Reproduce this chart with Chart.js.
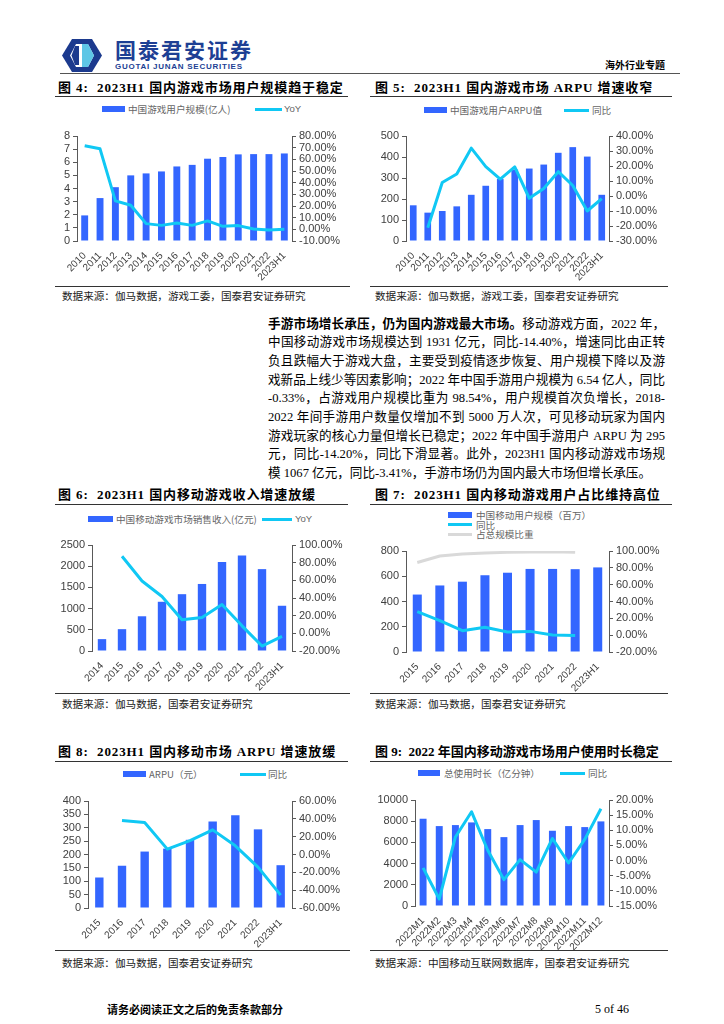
<!DOCTYPE html>
<html><head><meta charset="utf-8">
<script src="https://cdn.jsdelivr.net/npm/chart.js@4.4.0/dist/chart.umd.min.js"></script>
<style>
html,body{margin:0;padding:0;background:#fff;}
#page{position:relative;width:724px;height:1024px;overflow:hidden;font-family:"Liberation Serif","Noto Sans CJK SC",serif;color:#000;}
.abs{position:absolute;white-space:nowrap;}
.title{font-family:"Liberation Serif","Noto Sans CJK SC",serif;font-weight:bold;font-size:13px;line-height:18px;letter-spacing:0.9px;}
.hline{position:absolute;height:1px;background:#333;}
.src{font-family:"Noto Sans CJK SC",sans-serif;font-size:10.6px;line-height:14px;color:#222;}
.lg{font-family:"Noto Sans CJK SC",sans-serif;font-size:9.6px;line-height:12px;color:#666;}
.lgfont{font-family:"Liberation Sans","Noto Sans CJK SC",sans-serif;}
.sw{position:absolute;}
canvas{position:absolute;}
.body{position:absolute;left:268px;width:397px;font-size:12.6px;line-height:18.65px;font-family:"Liberation Serif","Noto Sans CJK SC",serif;}
.body div{white-space:nowrap;text-align:justify;text-align-last:justify;height:18.65px;}
</style></head>
<body><div id="page">
<!-- header -->
<svg class="abs" style="left:62px;top:39px" width="40" height="33" viewBox="0 0 40 33">
  <path d="M10 0 H30 L40 16.5 L30 33 H10 L0 16.5 Z" fill="#1c3a8e"/>
  <path d="M14 5 H26 L32 16.5 L26 28 H14 L8 16.5 Z" fill="#fff"/>
  <path d="M20 5 H26 L32 16.5 L26 28 H20 Z" fill="#5ec6e6"/>
  <path d="M13 7 L17 7 L17 26 L13 26 L9.5 16.5 Z" fill="#1c3a8e"/>
</svg>
<div class="abs" style="left:115px;top:37px;font-family:'Noto Sans CJK SC';font-weight:bold;font-size:21px;line-height:24px;color:#1d3f94;letter-spacing:2px;">国泰君安证券</div>
<div class="abs" style="left:115px;top:62px;font-family:'Liberation Sans';font-weight:bold;font-size:8px;line-height:9px;letter-spacing:0.75px;color:#1d3f94;">GUOTAI JUNAN SECURITIES</div>
<div class="abs" style="left:605px;top:58px;font-family:'Noto Sans CJK SC';font-weight:bold;font-size:10px;line-height:14px;">海外行业专题</div>
<div class="hline" style="left:60px;top:73px;width:620px;background:#555;"></div>

<!-- titles row 1 -->
<div class="abs title" style="left:58px;top:79px;">图 4:&nbsp; 2023H1 国内游戏市场用户规模趋于稳定</div>
<div class="hline" style="left:55px;top:96px;width:293px;"></div>
<div class="abs title" style="left:375px;top:79px;">图 5:&nbsp; 2023H1 国内游戏市场 ARPU 增速收窄</div>
<div class="hline" style="left:370px;top:96px;width:302px;"></div>

<!-- legends chart1 -->
<div class="sw" style="left:102px;top:106px;width:23px;height:6px;background:#3366ff;"></div>
<div class="abs lg" style="left:128px;top:103px;">中国游戏用户规模(亿人)</div>
<div class="sw" style="left:255px;top:108px;width:27px;height:3px;background:#10c8f4;"></div>
<div class="abs lg lgfont" style="left:284px;top:103px;">YoY</div>
<!-- legends chart2 -->
<div class="sw" style="left:424px;top:107px;width:23px;height:6px;background:#3366ff;"></div>
<div class="abs lg" style="left:450px;top:104px;">中国游戏用户ARPU值</div>
<div class="sw" style="left:564px;top:109px;width:25px;height:3px;background:#10c8f4;"></div>
<div class="abs lg" style="left:592px;top:104px;">同比</div>

<canvas id="c1" width="300" height="166" style="left:55px;top:120px"></canvas>
<canvas id="c2" width="340" height="166" style="left:365px;top:120px"></canvas>

<div class="hline" style="left:55px;top:286px;width:295px;"></div>
<div class="hline" style="left:370px;top:286px;width:298px;"></div>
<div class="abs src" style="left:62px;top:289px;">数据来源：伽马数据，游戏工委，国泰君安证券研究</div>
<div class="abs src" style="left:375px;top:289px;">数据来源：伽马数据，游戏工委，国泰君安证券研究</div>

<!-- body text -->
<div class="body" style="top:314.7px;">
<div><b>手游市场增长承压，仍为国内游戏最大市场。</b>移动游戏方面，2022 年，</div>
<div>中国移动游戏市场规模达到 1931 亿元，同比-14.40%，增速同比由正转</div>
<div>负且跌幅大于游戏大盘，主要受到疫情逐步恢复、用户规模下降以及游</div>
<div>戏新品上线少等因素影响；2022 年中国手游用户规模为 6.54 亿人，同比</div>
<div>-0.33%，占游戏用户规模比重为 98.54%，用户规模首次负增长，2018-</div>
<div>2022 年间手游用户数量仅增加不到 5000 万人次，可见移动玩家为国内</div>
<div>游戏玩家的核心力量但增长已稳定；2022 年中国手游用户 ARPU 为 295</div>
<div>元，同比-14.20%，同比下滑显著。此外，2023H1 国内移动游戏市场规</div>
<div style="text-align:left;text-align-last:left;">模 1067 亿元，同比-3.41%，手游市场仍为国内最大市场但增长承压。</div>
</div>

<!-- titles row 2 -->
<div class="abs title" style="left:58px;top:486px;">图 6:&nbsp; 2023H1 国内移动游戏收入增速放缓</div>
<div class="hline" style="left:55px;top:504px;width:293px;"></div>
<div class="abs title" style="left:375px;top:486px;">图 7:&nbsp; 2023H1 国内移动游戏用户占比维持高位</div>
<div class="hline" style="left:370px;top:504px;width:302px;"></div>

<!-- legend chart3 -->
<div class="sw" style="left:88px;top:516px;width:25px;height:6px;background:#3366ff;"></div>
<div class="abs lg" style="left:116px;top:513px;">中国移动游戏市场销售收入(亿元)</div>
<div class="sw" style="left:262px;top:518px;width:30px;height:3px;background:#10c8f4;"></div>
<div class="abs lg lgfont" style="left:295px;top:513px;">YoY</div>
<!-- legend chart4 -->
<div class="sw" style="left:448px;top:512px;width:24px;height:6px;background:#3366ff;"></div>
<div class="abs lg" style="left:476px;top:509px;">中国移动用户规模（百万）</div>
<div class="sw" style="left:448px;top:523px;width:24px;height:3px;background:#10c8f4;"></div>
<div class="abs lg" style="left:476px;top:518.5px;">同比</div>
<div class="sw" style="left:448px;top:532.5px;width:24px;height:3px;background:#d9d9d9;"></div>
<div class="abs lg" style="left:476px;top:528px;">占总规模比重</div>

<canvas id="c3" width="300" height="162" style="left:55px;top:530px"></canvas>
<canvas id="c4" width="340" height="156" style="left:365px;top:536px"></canvas>

<div class="hline" style="left:55px;top:693px;width:295px;"></div>
<div class="hline" style="left:370px;top:693px;width:298px;"></div>
<div class="abs src" style="left:62px;top:697px;">数据来源：伽马数据，国泰君安证券研究</div>
<div class="abs src" style="left:375px;top:697px;">数据来源：伽马数据，国泰君安证券研究</div>

<!-- titles row 3 -->
<div class="abs title" style="left:58px;top:743px;">图 8:&nbsp; 2023H1 国内移动市场 ARPU 增速放缓</div>
<div class="hline" style="left:55px;top:761px;width:293px;"></div>
<div class="abs title" style="left:375px;top:743px;letter-spacing:0;">图 9:&nbsp; 2022 年国内移动游戏市场用户使用时长稳定</div>
<div class="hline" style="left:370px;top:761px;width:302px;"></div>

<!-- legend chart5 -->
<div class="sw" style="left:123px;top:771px;width:23px;height:6px;background:#3366ff;"></div>
<div class="abs lg" style="left:149px;top:768px;">ARPU（元）</div>
<div class="sw" style="left:240px;top:773px;width:26px;height:3px;background:#10c8f4;"></div>
<div class="abs lg" style="left:268px;top:768px;">同比</div>
<!-- legend chart6 -->
<div class="sw" style="left:418px;top:770px;width:22px;height:6px;background:#3366ff;"></div>
<div class="abs lg" style="left:444px;top:767px;">总使用时长（亿分钟）</div>
<div class="sw" style="left:560px;top:772px;width:25px;height:3px;background:#10c8f4;"></div>
<div class="abs lg" style="left:588px;top:767px;">同比</div>

<canvas id="c5" width="300" height="164" style="left:55px;top:786px"></canvas>
<canvas id="c6" width="340" height="165" style="left:365px;top:785px"></canvas>

<div class="hline" style="left:55px;top:950px;width:295px;"></div>
<div class="hline" style="left:370px;top:950px;width:298px;"></div>
<div class="abs src" style="left:62px;top:956px;">数据来源：伽马数据，国泰君安证券研究</div>
<div class="abs src" style="left:375px;top:956px;">数据来源：中国移动互联网数据库，国泰君安证券研究</div>

<!-- footer -->
<div class="abs" style="left:107px;top:1002px;font-family:'Noto Sans CJK SC';font-weight:bold;font-size:11px;line-height:15px;">请务必阅读正文之后的免责条款部分</div>
<div class="abs" style="left:595px;top:1002px;font-family:'Liberation Serif';font-size:12px;line-height:15px;">5 of 46</div>
</div>

<script>
// ---- Data ----
const years1 = ['2010','2011','2012','2013','2014','2015','2016','2017','2018','2019','2020','2021','2022','2023H1'];
const gameUsers = [1.95, 3.27, 4.1, 5.0, 5.15, 5.3, 5.68, 5.8, 6.27, 6.4, 6.6, 6.62, 6.62, 6.67];
const gameUsersYoY = [71.6, 69.0, 24.4, 20.6, 4.9, 3.4, 5.4, 3.4, 7.2, 2.6, 3.2, 0.3, -0.5, 0.0];

const gameArpu = [170, 135, 143, 165, 220, 263, 295, 340, 345, 364, 420, 447, 402, 220];
const gameArpuYoY = [null, -21.2, 9.0, 14.7, 31.9, 19.6, 11.3, 19.4, -1.5, 5.0, 16.2, 7.0, -10.0, -1.7];

const years3 = ['2014','2015','2016','2017','2018','2019','2020','2021','2022','2023H1'];
const mobileRevenue = [280, 515, 819, 1161, 1340, 1581, 2097, 2255, 1931, 1067];
const mobileRevenueYoY = [null, 87.2, 59.2, 41.7, 15.4, 18.0, 32.6, 8.5, -14.4, -3.4];

const years4 = ['2015','2016','2017','2018','2019','2020','2021','2022','2023H1'];
const mobileUsers = [455, 527, 557, 608, 628, 658, 658, 656, 670];
const mobileUsersYoY = [28.0, 17.3, 5.3, 9.3, 3.7, 4.5, 0.2, -0.3, null];
const mobileShare = [86.4, 94.0, 96.4, 97.6, 98.4, 98.9, 99.0, 98.5, null];

const years5 = ['2015','2016','2017','2018','2019','2020','2021','2022','2023H1'];
const mobileArpu = [114, 158, 211, 222, 255, 323, 347, 294, 160];
const mobileArpuYoY = [null, 38.0, 35.8, 6.0, 15.6, 27.6, 9.7, -14.2, -45.5];

const months6 = ['2022M1','2022M2','2022M3','2022M4','2022M5','2022M6','2022M7','2022M8','2022M9','2022M10','2022M11','2022M12'];
const playTime = [8233, 7539, 7634, 7886, 7256, 6498, 7634, 8107, 7098, 7539, 7445, 7981];
const playTimeYoY = [-2.4, -12.7, 7.8, 16.1, 3.4, -6.3, 0.3, -3.8, 7.3, -0.8, 7.0, 17.1];

// ---- Styles ----
const BLUE = '#3366ff', CYAN = '#10c8f4', GREY = '#d9d9d9', AXIS = '#595959', TXT = '#404040';
const FONT = '"Liberation Sans", Arial, sans-serif';

function dualChart(id, labels, bars, lines, yL, yR, g) {
  const datasets = [{
    type: 'bar', data: bars, backgroundColor: BLUE, barPercentage: g.bp, categoryPercentage: 1,
    yAxisID: 'y', order: 3
  }];
  lines.forEach((l, i) => datasets.push({
    type: 'line', data: l.data, borderColor: l.color, backgroundColor: l.color, borderWidth: 3,
    pointRadius: 0, tension: 0, yAxisID: 'y1', order: 1 + i, spanGaps: false, borderJoinStyle: 'round'
  }));
  const yTicks = (extra) => Object.assign({color: TXT, font: {family: FONT, size: 11}, padding: 3, autoSkip: false}, extra);
  new Chart(document.getElementById(id), {
    type: 'bar',
    data: {labels, datasets},
    options: {
      responsive: false, animation: false, devicePixelRatio: 1,
      layout: {autoPadding: false, padding: {top: g.top, left: 0, right: 0, bottom: 0}},
      plugins: {legend: {display: false}, tooltip: {enabled: false}},
      scales: {
        x: {
          offset: true,
          grid: {display: false}, border: {display: false},
          ticks: {minRotation: 45, maxRotation: 45, autoSkip: false, color: TXT, font: {family: FONT, size: 10}, padding: 1},
          afterFit: s => { s.height = g.xh; }
        },
        y: {
          position: 'left', min: yL[0], max: yL[1],
          ticks: yTicks({stepSize: yL[2], callback: v => String(v)}),
          grid: {drawOnChartArea: false, drawTicks: true, tickLength: 4, color: AXIS},
          border: {display: true, color: AXIS},
          afterFit: s => { s.width = g.lw; }
        },
        y1: {
          position: 'right', min: yR[0], max: yR[1],
          ticks: yTicks({stepSize: yR[2], callback: v => v.toFixed(2) + '%'}),
          grid: {drawOnChartArea: false, drawTicks: true, tickLength: 4, color: AXIS},
          border: {display: true, color: AXIS},
          afterFit: s => { s.width = g.rw; }
        }
      }
    }
  });
}

dualChart('c1', years1, gameUsers, [{data: gameUsersYoY, color: CYAN}], [0, 8, 1], [-10, 80, 10],
  {top: 16, xh: 45, lw: 22, rw: 63, bp: 0.45});
dualChart('c2', years1, gameArpu, [{data: gameArpuYoY, color: CYAN}], [0, 500, 100], [-30, 40, 10],
  {top: 16, xh: 45, lw: 41, rw: 96, bp: 0.46});
dualChart('c3', years3, mobileRevenue, [{data: mobileRevenueYoY, color: CYAN}], [0, 2500, 500], [-20, 100, 20],
  {top: 15, xh: 41, lw: 37, rw: 63, bp: 0.42});
dualChart('c4', years4, mobileUsers, [{data: mobileUsersYoY, color: CYAN}, {data: mobileShare, color: GREY}], [0, 800, 200], [-20, 100, 20],
  {top: 15, xh: 40, lw: 41, rw: 96, bp: 0.4});
dualChart('c5', years5, mobileArpu, [{data: mobileArpuYoY, color: CYAN}], [0, 400, 50], [-60, 60, 20],
  {top: 15, xh: 42, lw: 33, rw: 63, bp: 0.37});
dualChart('c6', months6, playTime, [{data: playTimeYoY, color: CYAN}], [0, 10000, 2000], [-15, 20, 5],
  {top: 15, xh: 44, lw: 50, rw: 96, bp: 0.43});
</script>
</body></html>
